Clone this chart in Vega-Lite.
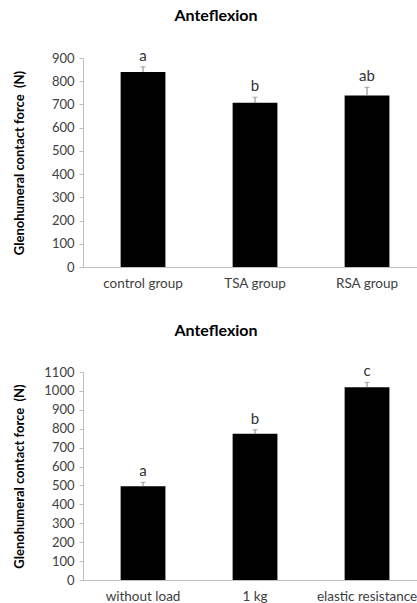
{
  "$schema": "https://vega.github.io/schema/vega-lite/v6.json",
  "background": "white",
  "padding": {"left": 12, "top": 7, "right": 0, "bottom": 0},
  "spacing": 33,
  "datasets": {
    "groups": [
      {"group": "control group", "force": 840, "upper": 862, "sig": "a"},
      {"group": "TSA group", "force": 707, "upper": 731, "sig": "b"},
      {"group": "RSA group", "force": 738, "upper": 774, "sig": "ab"}
    ],
    "loads": [
      {"group": "without load", "force": 496, "upper": 517, "sig": "a"},
      {"group": "1 kg", "force": 773, "upper": 794, "sig": "b"},
      {"group": "elastic resistance", "force": 1019, "upper": 1045, "sig": "c"}
    ]
  },
  "config": {
    "view": {"stroke": null},
    "font": "Lato",
    "title": {"font": "Lato", "fontSize": 16, "fontWeight": "bold", "color": "#000000", "anchor": "middle", "frame": "bounds", "offset": 25},
    "axis": {
      "domainColor": "#bfbfbf",
      "tickColor": "#bfbfbf",
      "labelColor": "#404040",
      "labelFont": "Lato",
      "labelFontSize": 13,
      "titleFont": "Lato",
      "titleFontSize": 13,
      "titleFontWeight": "bold",
      "titleColor": "#000000",
      "grid": false
    },
    "scale": {"bandPaddingInner": 0.6, "bandPaddingOuter": 0.3}
  },
  "vconcat": [
    {
      "title": "Anteflexion",
      "width": 336,
      "height": 209,
      "data": {"name": "groups"},
      "encoding": {
        "x": {"field": "group", "type": "nominal", "sort": null, "scale": {"align": 0.56},
              "axis": {"title": null, "labelAngle": 0, "ticks": false, "labelPadding": 9, "labelFontSize": 13.5}},
        "y": {"field": "force", "type": "quantitative", "scale": {"domain": [0, 900]},
           "axis": {"title": "Glenohumeral contact force \u00a0(N)", "values": [0,100,200,300,400,500,600,700,800,900], "format": "d", "tickSize": 4, "labelPadding": 5, "titleX": -57}}
      },
      "layer": [
        {"mark": {"type": "bar", "color": "#000000"}},
        {"mark": {"type": "rule", "color": "#808080", "strokeWidth": 1},
         "encoding": {"y2": {"field": "upper"}}},
        {"mark": {"type": "tick", "color": "#808080", "size": 5, "thickness": 1},
         "encoding": {"y": {"field": "upper", "type": "quantitative"}}},
        {"mark": {"type": "text", "baseline": "bottom", "dy": -3, "fontSize": 15, "color": "#333333", "font": "Lato"},
         "encoding": {"y": {"field": "upper", "type": "quantitative"}, "text": {"field": "sig"}}}
      ]
    },
    {
      "title": "Anteflexion",
      "width": 336,
      "height": 208,
      "data": {"name": "loads"},
      "encoding": {
        "x": {"field": "group", "type": "nominal", "sort": null, "scale": {"align": 0.56},
              "axis": {"title": null, "labelAngle": 0, "ticks": false, "labelPadding": 9, "labelFontSize": 13.5}},
        "y": {"field": "force", "type": "quantitative", "scale": {"domain": [0, 1100]},
           "axis": {"title": "Glenohumeral contact force \u00a0(N)", "values": [0,100,200,300,400,500,600,700,800,900,1000,1100], "format": "d", "tickSize": 4, "labelPadding": 5, "titleX": -57}}
      },
      "layer": [
        {"mark": {"type": "bar", "color": "#000000"}},
        {"mark": {"type": "rule", "color": "#808080", "strokeWidth": 1},
         "encoding": {"y2": {"field": "upper"}}},
        {"mark": {"type": "tick", "color": "#808080", "size": 5, "thickness": 1},
         "encoding": {"y": {"field": "upper", "type": "quantitative"}}},
        {"mark": {"type": "text", "baseline": "bottom", "dy": -3, "fontSize": 15, "color": "#333333", "font": "Lato"},
         "encoding": {"y": {"field": "upper", "type": "quantitative"}, "text": {"field": "sig"}}}
      ]
    }
  ]
}
